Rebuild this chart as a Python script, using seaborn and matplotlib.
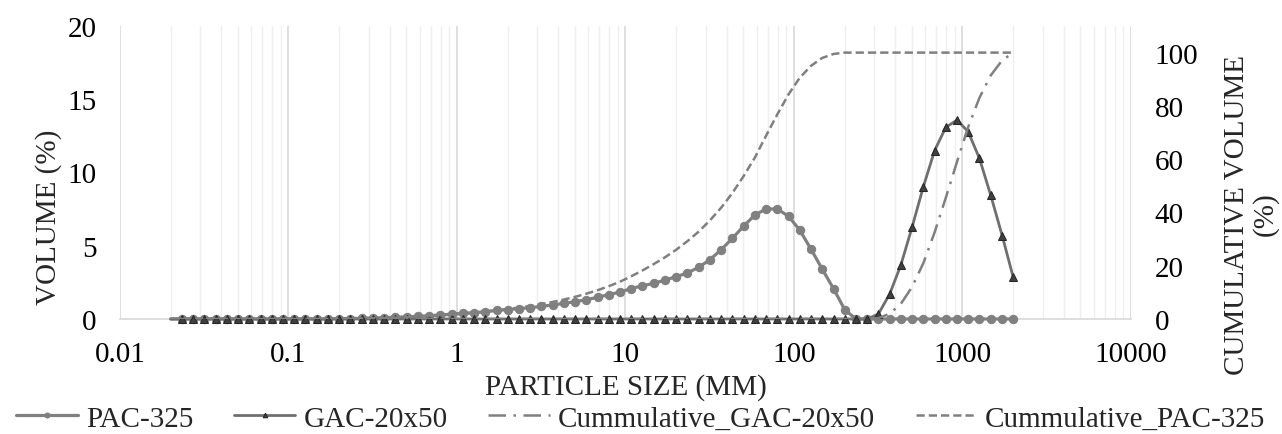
import matplotlib
matplotlib.use("Agg")
import matplotlib.pyplot as plt
from matplotlib.ticker import FixedLocator, NullFormatter
import seaborn as sns

# particle size bins (15 per decade, 0.02 - 2000)
size_mm = [0.02, 0.0233, 0.0272, 0.0317, 0.0370, 0.0431, 0.0502, 0.0586, 0.0683, 0.0796,
           0.0928, 0.108, 0.126, 0.147, 0.172, 0.2, 0.233, 0.272, 0.317, 0.370,
           0.431, 0.502, 0.586, 0.683, 0.796, 0.928, 1.08, 1.26, 1.47, 1.72,
           2.0, 2.33, 2.72, 3.17, 3.70, 4.31, 5.02, 5.86, 6.83, 7.96,
           9.28, 10.8, 12.6, 14.7, 17.2, 20, 23.3, 27.2, 31.7, 37.0,
           43.1, 50.2, 58.6, 68.3, 79.6, 92.8, 108, 126, 147, 172,
           200, 233, 272, 317, 370, 431, 502, 586, 683, 796,
           928, 1080, 1260, 1470, 1720, 2000]

pac_325 = [0] * 14 + \
    [0.01, 0.02, 0.03, 0.05, 0.07, 0.09, 0.12, 0.15, 0.18, 0.22, 0.27,
     0.34, 0.39, 0.43, 0.50, 0.59, 0.64, 0.71, 0.77, 0.86, 0.96,
     1.07, 1.18, 1.32, 1.48, 1.66, 1.84, 2.07, 2.27, 2.43, 2.66,
     2.89, 3.14, 3.53, 4.05, 4.73, 5.51, 6.33, 7.10, 7.51, 7.51,
     7.01, 6.08, 4.78, 3.41, 2.05, 0.64] + [0] * 15

gac_20x50 = [0] * 63 + \
    [0.34, 1.71, 3.69, 6.26, 9.03, 11.49, 13.08, 13.58, 12.79, 10.97, 8.46, 5.69, 2.85]

cum_gac = [0] * 63 + \
    [0.3, 2.0, 5.7, 12.0, 21.0, 32.5, 45.5, 59.0, 72.0, 83.0, 91.4, 97.1, 100]

cum_pac = [0] * 14 + \
    [0.0, 0.1, 0.1, 0.2, 0.3, 0.4, 0.5, 0.7, 0.9, 1.1, 1.3,
     1.6, 1.9, 2.3, 2.7, 3.2, 3.7, 4.3, 4.9, 5.6, 6.4,
     7.3, 8.3, 9.5, 10.8, 12.3, 14.0, 16.0, 18.2, 20.6, 23.2,
     26.0, 29.2, 32.8, 37.0, 41.8, 47.3, 53.6, 60.6, 68.8, 76.8,
     84.3, 90.5, 95.0, 98.0, 99.5, 100] + [100] * 15

x_ticks = [0.01, 0.1, 1, 10, 100, 1000, 10000]
x_tick_labels = ["0.01", "0.1", "1", "10", "100", "1000", "10000"]

sns.set_theme(style="white")
plt.rcParams['font.family'] = ['Liberation Serif', 'DejaVu Serif']
FS = 21

fig, ax = plt.subplots(figsize=(12.82, 4.35), dpi=100)
fig.subplots_adjust(left=0.0936, right=0.8822, top=0.938, bottom=0.2644)
ax2 = ax.twinx()

sns.lineplot(x=size_mm, y=pac_325, ax=ax, color='#808080', lw=2.3, marker='o',
             markersize=6, markeredgecolor='#808080', markerfacecolor='#808080',
             markevery=slice(1, None), clip_on=False, label='PAC-325', zorder=3)
sns.lineplot(x=size_mm, y=gac_20x50, ax=ax, color='#6f6f6f', lw=2.0, marker='^',
             markersize=5.5, markeredgecolor='#262626', markerfacecolor='#404040',
             markevery=slice(1, None), clip_on=False, label='GAC-20x50', zorder=4)
sns.lineplot(x=size_mm, y=cum_gac, ax=ax2, color='#808080', lw=1.8,
             linestyle=(0, (7, 3, 1, 3)), label='Cummulative_GAC-20x50')
sns.lineplot(x=size_mm, y=cum_pac, ax=ax2, color='#808080', lw=1.8,
             linestyle=(0, (3.3, 1.6)), label='Cummulative_PAC-325')

ax.set_xscale('log')
ax.set_xlim(0.01, 10000)
ax.set_ylim(0, 20)
ax2.set_ylim(0, 110)
ax.set_yticks([0, 5, 10, 15, 20])
ax2.set_yticks([0, 20, 40, 60, 80, 100])
ax.xaxis.set_major_locator(FixedLocator(x_ticks))
ax.set_xticklabels(x_tick_labels)
ax.xaxis.set_minor_locator(FixedLocator([m * d for d in x_ticks[:-1] for m in range(2, 10)]))
ax.xaxis.set_minor_formatter(NullFormatter())

ax.grid(False)
ax2.grid(False)
ax.grid(True, which='minor', axis='x', color='#efefef', lw=1)
ax.grid(True, which='major', axis='x', color='#d9d9d9', lw=1.2)
ax.set_axisbelow(True)

for s in ['top', 'left', 'right']:
    ax.spines[s].set_visible(False)
ax.spines['bottom'].set_color('#d9d9d9')
for s in ax2.spines.values():
    s.set_visible(False)

ax.tick_params(axis='both', which='both', length=0, labelsize=FS, colors='black')
ax.tick_params(axis='y', pad=17)
ax.tick_params(axis='x', pad=16)
ax2.tick_params(axis='y', length=0, labelsize=FS, pad=17, colors='black')

ax.set_xlabel("PARTICLE SIZE (MM)", fontsize=FS, labelpad=4)
ax.set_ylabel("VOLUME (%)", fontsize=FS, ha='center', va='center')
ax.yaxis.set_label_coords(-0.0702, 0.352)
ax2.set_ylabel("CUMULATIVE VOLUME\n(%)", fontsize=FS, rotation=90,
               ha='center', va='center', linespacing=1.05)
ax2.yaxis.set_label_coords(1.119, 0.36)

h1, l1 = ax.get_legend_handles_labels()
h2, l2 = ax2.get_legend_handles_labels()
ax.get_legend().remove()
ax2.get_legend().remove()
fig.legend(h1 + h2, l1 + l2, loc='lower center', bbox_to_anchor=(0.5, -0.055), ncol=4,
           frameon=False, fontsize=FS, handlelength=2.1, handletextpad=0.28,
           columnspacing=1.4, markerscale=0.6)

fig.savefig("out.png", dpi=100)
